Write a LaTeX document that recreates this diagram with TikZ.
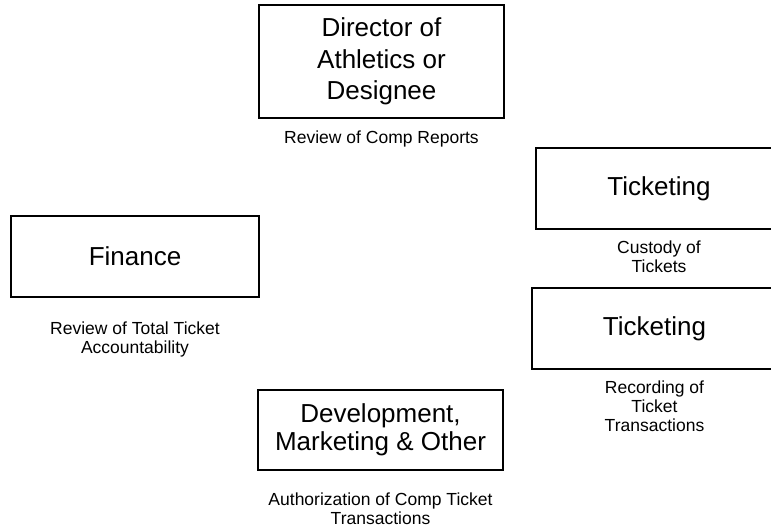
\documentclass[tikz,border=0pt]{standalone}
\usepackage{fontspec}
\setmainfont{Liberation Sans}
\usetikzlibrary{positioning}

\begin{document}
\begin{tikzpicture}[
    x=1pt, y=-1pt,
    unit/.style={draw, rectangle, line width=1.2pt, inner sep=0pt, align=center,
        minimum height=81pt, font=\fontsize{26}{28}\selectfont},
    duty/.style={inner sep=0pt, align=center, font=\fontsize{17.5}{19}\selectfont}
]
\useasboundingbox (0,0) rectangle (771,531);

\node[unit, minimum width=245pt, minimum height=113pt, font=\fontsize{26}{31.5}\selectfont] (director) at (381.5,61.5) {Director of\\Athletics or\\Designee};
\node[unit, minimum width=246pt] (custody) at (659,188.5) {Ticketing};
\node[unit, minimum width=248pt] (finance) at (135,256.5) {Finance};
\node[unit, minimum width=245pt] (recording) at (654.5,328.5) {Ticketing};
\node[unit, minimum width=245pt, minimum height=80pt] (development) at (380.5,430) {Development,\\Marketing \& Other};

\node[duty, below=12pt of director] (directorduty) {Review of Comp Reports};
\node[duty, below=11pt of custody] (custodyduty) {Custody of\\Tickets};
\node[duty, below=24pt of finance] (financeduty) {Review of Total Ticket\\Accountability};
\node[duty, below=11pt of recording] (recordingduty) {Recording of\\Ticket\\Transactions};
\node[duty, below=22pt of development] (developmentduty) {Authorization of Comp Ticket\\Transactions};
\end{tikzpicture}
\end{document}
